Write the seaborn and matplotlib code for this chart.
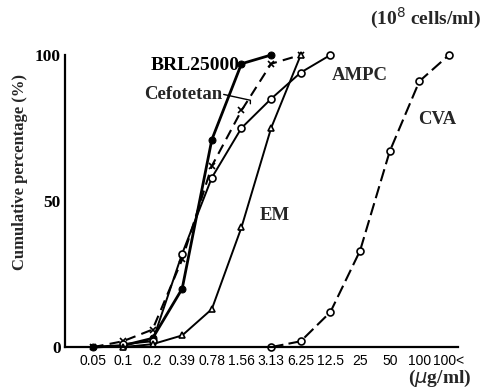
import matplotlib
matplotlib.use("Agg")
import matplotlib.pyplot as plt
import seaborn as sns

# ---- data ----
conc_labels = ["0.05", "0.1", "0.2", "0.39", "0.78", "1.56", "3.13",
               "6.25", "12.5", "25", "50", "100", "100<"]

brl_x = [0, 1, 2, 3, 4, 5, 6]
brl_y = [0, 0.5, 3, 20, 71, 97, 100]

cefotetan_x = [0, 1, 2, 3, 4, 5, 6, 7]
cefotetan_y = [0, 2, 6, 30, 62, 81, 97, 100]

ampc_x = [1, 2, 3, 4, 5, 6, 7, 8]
ampc_y = [1, 2, 32, 58, 75, 85, 94, 100]

em_x = [1, 2, 3, 4, 5, 6, 7]
em_y = [0, 1, 4, 13, 41, 75, 100]

cva_x = [6, 7, 8, 9, 10, 11, 12]
cva_y = [0, 2, 12, 33, 67, 91, 100]

sns.set_theme(style="white")
plt.rcParams["font.family"] = ["Liberation Serif", "DejaVu Serif"]

fig = plt.figure(figsize=(4.82, 3.90), dpi=100)
ax = fig.add_axes([0.135, 0.110, 0.815, 0.749])

common = dict(ax=ax, color="black", sort=False, estimator=None, legend=False, clip_on=False)

sns.lineplot(x=brl_x, y=brl_y, marker="o", markersize=5, linewidth=2.0,
             markerfacecolor="black", markeredgecolor="black", **common)
sns.lineplot(x=cefotetan_x, y=cefotetan_y, marker="x", markersize=4, linewidth=1.5,
             linestyle=(0, (5, 3)), markeredgecolor="black", markeredgewidth=1.2, **common)
sns.lineplot(x=ampc_x, y=ampc_y, marker="o", markersize=5, linewidth=1.4,
             markerfacecolor="white", markeredgecolor="black", markeredgewidth=1.2, **common)
sns.lineplot(x=em_x, y=em_y, marker="^", markersize=5, linewidth=1.4,
             markerfacecolor="white", markeredgecolor="black", markeredgewidth=1.2, **common)
sns.lineplot(x=cva_x, y=cva_y, marker="o", markersize=5, linewidth=1.5,
             linestyle=(0, (6, 2.5)), markerfacecolor="white", markeredgecolor="black",
             markeredgewidth=1.2, **common)

ax.set_xlim(-0.95, 12.3)
ax.set_ylim(0, 100)
ax.set_xticks(range(len(conc_labels)))
ax.set_xticklabels(conc_labels, family=["Liberation Sans", "DejaVu Sans"], fontsize=10)
ax.set_yticks([0, 50, 100])
ax.set_yticklabels(["0", "50", "100"], fontsize=12.5, fontweight="bold")
ax.tick_params(axis="both", direction="in", colors="black", width=1.3)
ax.tick_params(axis="y", length=8, pad=3)
ax.tick_params(axis="x", length=6, pad=5)

for s in ["top", "right"]:
    ax.spines[s].set_visible(False)
for s in ["left", "bottom"]:
    ax.spines[s].set_color("black")
    ax.spines[s].set_linewidth(1.6)

fig.text(20 / 482, 1 - 172 / 390, "Cumulative percentage (%)", rotation=90,
         ha="center", va="center", fontsize=12, fontweight="bold")

tkw = dict(fontsize=14, fontweight="bold", color="black")
ax.text(4.95, 96.5, "BRL25000", ha="right", va="center", **tkw)
ax.text(4.35, 86.5, "Cefotetan", ha="right", va="center", fontsize=13.5, fontweight="bold")
ax.plot([4.4, 5.3, 5.3], [86.5, 84.5, 83.3], color="black", lw=1.0)
ax.text(8.05, 93, "AMPC", ha="left", va="center", fontsize=13.5, fontweight="bold")
ax.text(10.95, 78, "CVA", ha="left", va="center", fontsize=13.5, fontweight="bold")
ax.text(5.6, 45, "EM", ha="left", va="center", fontsize=13.5, fontweight="bold")

fig.text(0.997, 0.953, "(10$^{8}$ cells/ml)", ha="right", va="center", fontsize=14, fontweight="bold")
fig.text(0.978, 0.03, "($\\mu$g/ml)", ha="right", va="center", fontsize=14, fontweight="bold")

fig.savefig("out.png", dpi=100)
